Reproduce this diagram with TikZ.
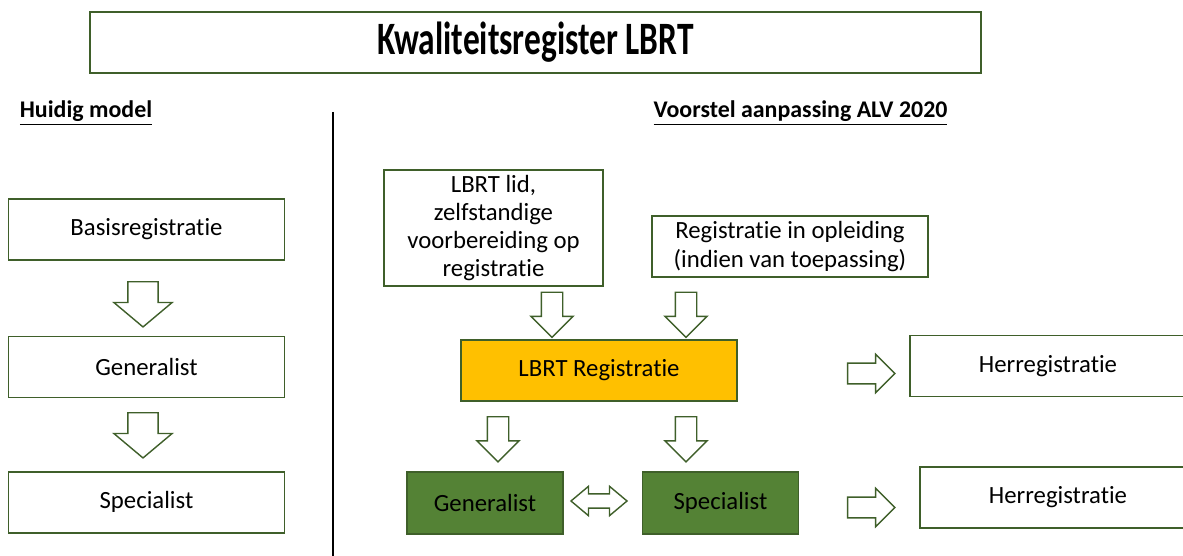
\documentclass[tikz,border=0pt]{standalone}
\usepackage{fontspec}
\setmainfont{Carlito}[Ligatures=NoCommon]
\newfontfamily\titlefont[FakeStretch=0.72,Ligatures=NoCommon]{Carlito}
\usetikzlibrary{shapes.arrows,positioning}
\definecolor{boxline}{HTML}{3F5F2A}
\definecolor{boxgreen}{HTML}{548235}
\definecolor{boxyellow}{HTML}{FFC000}
\tikzset{
  box/.style={draw=boxline, line width=1pt, fill=white, minimum width=6.9cm, minimum height=1.525cm,
    inner sep=0pt, align=center, font=\fontsize{17.6}{20}\selectfont},
  greenbox/.style={box, fill=boxgreen, minimum width=3.9cm, minimum height=1.55cm},
  yellowbox/.style={box, fill=boxyellow},
  head/.style={anchor=base, font=\fontsize{17}{20}\bfseries\selectfont},
  arr/.style={draw=boxline, line width=1pt, fill=white},
  downarr/.style={arr, single arrow, shape border rotate=270, inner sep=0.25cm,
    single arrow head extend=0.26cm, minimum height=1.13cm, single arrow tip angle=90},
  bigdownarr/.style={downarr, inner sep=0.36cm, single arrow head extend=0.35cm,
    single arrow tip angle=100},
  rightarr/.style={arr, single arrow, inner sep=0.24cm, single arrow head extend=0.22cm,
    minimum height=1.18cm, single arrow tip angle=90},
  botharr/.style={arr, double arrow, inner sep=0.16cm, double arrow head extend=0.19cm,
    minimum height=1.4cm, double arrow tip angle=80}
}
\begin{document}
\begin{tikzpicture}[x=0.025cm, y=-0.025cm]
  \useasboundingbox (0,0) rectangle (1183,556);

  \node[box, minimum width=22.275cm, font=\titlefont\fontsize{33}{36}\bfseries\selectfont]
    (title) at (535.5,42.5) {Kwaliteitsregister LBRT};
  \node[head] (huidig) at (86,118) {\underline{Huidig model}};
  \node[head] (voorstel) at (800.5,118) {\underline{Voorstel aanpassing ALV 2020}};
  \coordinate (sep top) at (333,112);
  \coordinate (sep bot) at (333,556);
  \draw[line width=1pt] (sep top) -- (sep bot);

  % huidig model
  \node[box] (basis) at (146.5,229.5) {Basisregistratie};
  \node[box, below=1.875cm of basis] (gen) {Generalist};
  \node[box, below=1.825cm of gen] (spec) {Specialist};
  \node[bigdownarr] (a1) at (143,298) {};
  \node[bigdownarr] (a2) at (143,429) {};

  % voorstel
  \node[box, minimum width=5.475cm, minimum height=2.9cm] (lid) at (493.5,228)
    {LBRT lid,\\zelfstandige\\voorbereiding op\\registratie};
  \node[box] (opl) at (790,246.5) {Registratie in opleiding\\(indien van toepassing)};
  \node[downarr] (b1) at (552,309.5) {};
  \node[downarr] (b2) at (686,309.5) {};
  \node[yellowbox] (reg) at (599,370.5) {LBRT Registratie};
  \node[downarr] (c1) at (498,434) {};
  \node[downarr] (c2) at (686,434) {};
  \node[greenbox] (ggen) at (485,503) {Generalist};
  \node[greenbox] (gspec) at (720.5,503) {Specialist};
  \node[botharr] (d1) at (599,501) {};
  \node[rightarr] (e1) at (866,373.5) {};
  \node[rightarr] (e2) at (866,507.5) {};
  \node[box] (her1) at (1048,366) {Herregistratie};
  \node[box] (her2) at (1058,497.5) {Herregistratie};
\end{tikzpicture}
\end{document}
